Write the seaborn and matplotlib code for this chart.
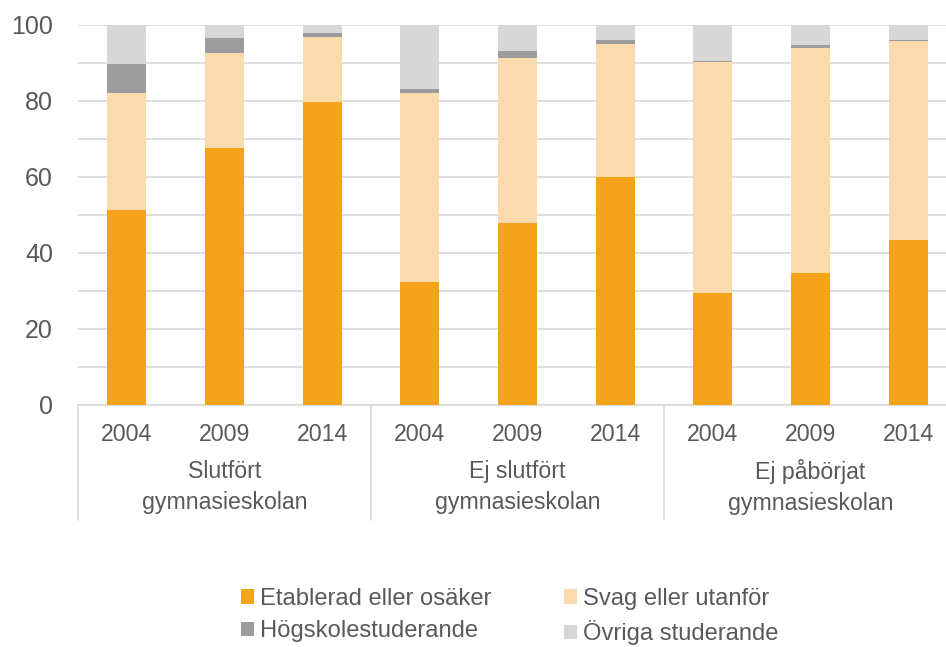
import numpy as np
import pandas as pd
import matplotlib
matplotlib.use("Agg")
import matplotlib.pyplot as plt
import matplotlib.transforms as mtransforms
from matplotlib.patches import Patch
import seaborn as sns

# --- data (percent of each group) ---
groups = ["Slutfört\ngymnasieskolan", "Ej slutfört\ngymnasieskolan", "Ej påbörjat\ngymnasieskolan"]
years = ["2004", "2009", "2014"]
etablerad = [51.3, 67.7, 79.8, 32.4, 47.9, 60.1, 29.5, 34.7, 43.4]
svag = [30.8, 25.0, 17.0, 49.7, 43.5, 34.9, 60.7, 59.3, 52.4]
hogskola = [7.6, 4.0, 1.2, 1.0, 1.8, 1.0, 0.4, 0.7, 0.3]
ovriga = [10.3, 3.3, 2.0, 16.9, 6.8, 4.0, 9.4, 5.3, 3.9]

series = ["Etablerad eller osäker", "Svag eller utanför", "Högskolestuderande", "Övriga studerande"]
colors = ["#F4A41A", "#FBDBAE", "#9C9C9C", "#D7D7D7"]
TEXT = "#595959"
GRID = "#D9D9D9"

keys = [f"{g.split(chr(10))[0]} {y}" for g in groups for y in years]
df = pd.DataFrame({"key": keys, "etab": etablerad, "svag": svag, "hog": hogskola, "ovr": ovriga})
cum = df[["etab", "svag", "hog", "ovr"]].cumsum(axis=1)
cum["key"] = df["key"]

sns.set_theme(style="white")
plt.rcParams["font.family"] = ["Liberation Sans", "DejaVu Sans"]

fig = plt.figure(figsize=(9.46, 6.47), dpi=100)
ax = fig.add_axes([78 / 946, 242 / 647, 879 / 946, 380 / 647])

# stacked bars: draw the cumulative tops from tallest to shortest
for col, c in zip(["ovr", "hog", "svag", "etab"], colors[::-1]):
    sns.barplot(data=cum, x="key", y=col, order=keys, color=c, width=0.4,
                saturation=1, linewidth=0, ax=ax, zorder=3)

ax.set_xlim(-0.5, 8.5)
ax.set_ylim(0, 100)
ax.set_yticks(np.arange(0, 101, 20))
ax.set_yticks(np.arange(0, 101, 10), minor=True)
ax.grid(axis="y", which="both", color=GRID, lw=1.2, zorder=0)
ax.set_axisbelow(True)
ax.set_xlabel("")
ax.set_ylabel("")
ax.set_xticks(range(len(keys)))
ax.set_xticklabels(years * len(groups))
ax.tick_params(axis="x", length=0, pad=13, labelsize=16.7, labelcolor=TEXT)
ax.tick_params(axis="y", which="both", length=0, pad=18, labelsize=18, labelcolor=TEXT)
for s in ["top", "right", "left"]:
    ax.spines[s].set_visible(False)
ax.spines["bottom"].set_color(GRID)
ax.spines["bottom"].set_linewidth(1.2)

# group labels and separators under the axis
trans = mtransforms.blended_transform_factory(ax.transData, ax.transAxes)
for i, g in enumerate(groups):
    ax.text(i * 3 + 1, -0.215, g, transform=trans, ha="center", va="center",
            fontsize=16.7, color=TEXT, linespacing=1.45)
for x in [-0.5, 2.5, 5.5, 8.5]:
    ax.plot([x, x], [0, -0.303], transform=trans, color=GRID, lw=1.2, clip_on=False)

# legend fills column-wise, so order handles to get the reference's row layout
order = [0, 2, 1, 3]
handles = [Patch(facecolor=colors[i], edgecolor="none") for i in order]
labels = [series[i] for i in order]
fig.legend(handles, labels, loc="center", bbox_to_anchor=(0.539, 0.047), ncol=2,
           frameon=False, fontsize=17.1, labelcolor=TEXT, handlelength=0.55,
           handleheight=0.55, handletextpad=0.25, columnspacing=3.05, labelspacing=0.45)

fig.savefig("out.png", dpi=100)
